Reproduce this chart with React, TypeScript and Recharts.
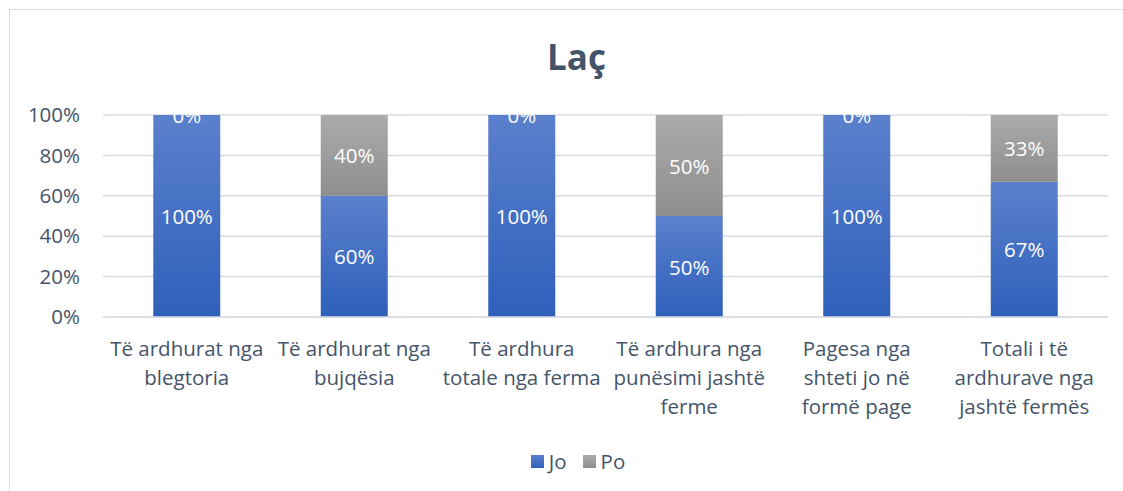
import { Bar, BarChart, CartesianGrid, LabelList, Legend, XAxis, YAxis } from 'recharts';

const categories = [
  'Të ardhurat nga\nblegtoria',
  'Të ardhurat nga\nbujqësia',
  'Të ardhura\ntotale nga ferma',
  'Të ardhura nga\npunësimi jashtë\nferme',
  'Pagesa nga\nshteti jo në\nformë page',
  'Totali i të\nardhurave nga\njashtë fermës',
];
const joValues = [100, 60, 100, 50, 100, 67];
const poValues = [0, 40, 0, 50, 0, 33];
const yTicks = [0, 20, 40, 60, 80, 100];

const FONT = '"Open Sans", Carlito, Calibri, sans-serif';
const FS = 20.5;
const TEXT = '#44546A';
const GRID = '#D9DCE3';

const chartData = categories.map((name, i) => ({ name, Jo: joValues[i], Po: poValues[i] }));

const CategoryTick = ({ x, y, payload }: any) => {
  const lines = String(payload.value).split('\n');
  return (
    <text x={x} y={y} textAnchor="middle" fill={TEXT} fontSize={FS} fontFamily={FONT}>
      {lines.map((line, i) => (
        <tspan key={i} x={x} dy={i === 0 ? 31 : 29}>
          {line}
        </tspan>
      ))}
    </text>
  );
};

const pctText = (cx: number, cy: number, value: number) => (
  <text x={cx} y={cy} textAnchor="middle" dominantBaseline="central" fill="#fff" fontSize={FS} fontFamily={FONT}>
    {`${value}%`}
  </text>
);

// Recharts skips zero-height segments, so the "0%" of a zero Po segment is drawn
// here at the top edge of the Jo segment, where Excel puts it.
const JoLabel = (props: any) => {
  const { x, y, width, height, value, index } = props;
  const cx = Number(x) + Number(width) / 2;
  return (
    <g>
      {pctText(cx, Number(y) + Number(height) / 2, value)}
      {poValues[index] === 0 ? pctText(cx, Number(y), poValues[index]) : null}
    </g>
  );
};

const PoLabel = (props: any) => {
  const { x, y, width, height, value } = props;
  if (!value) return null;
  return pctText(Number(x) + Number(width) / 2, Number(y) + Number(height) / 2, value);
};

const LegendContent = () => (
  <div style={{ height: 30, paddingLeft: 40, display: 'flex', justifyContent: 'center', alignItems: 'center', fontFamily: FONT, fontSize: FS, color: TEXT }}>
    <span style={{ display: 'inline-block', width: 13, height: 13, background: 'linear-gradient(#5B80CC, #2E60BB)', marginRight: 5 }} />
    <span style={{ marginRight: 16 }}>Jo</span>
    <span style={{ display: 'inline-block', width: 13, height: 13, background: 'linear-gradient(#ABABAB, #8E8E8E)', marginRight: 5 }} />
    <span>Po</span>
  </div>
);

export default function App() {
  return (
    <div style={{ position: 'absolute', left: 0, top: 0, width: 1123, height: 491, overflow: 'hidden', background: '#fff' }}>
      <div style={{ position: 'absolute', left: 9, top: 9, width: 1300, height: 700, border: `1.5px solid ${GRID}` }} />
      <div style={{ position: 'absolute', left: 0, top: 33, width: 1153, textAlign: 'center', fontFamily: FONT, fontSize: 35, fontWeight: 700, color: TEXT }}>
        Laç
      </div>
      <div style={{ position: 'absolute', left: 0, top: 0 }}>
        <BarChart width={1123} height={491} data={chartData} margin={{ top: 115, right: 15, bottom: 15, left: 8 }} barCategoryGap="30%">
          <defs>
            <linearGradient id="gradJo" x1="0" y1="0" x2="0" y2="1">
              <stop offset="0%" stopColor="#5B80CC" />
              <stop offset="100%" stopColor="#2E60BB" />
            </linearGradient>
            <linearGradient id="gradPo" x1="0" y1="0" x2="0" y2="1">
              <stop offset="0%" stopColor="#ABABAB" />
              <stop offset="100%" stopColor="#8E8E8E" />
            </linearGradient>
          </defs>
          <CartesianGrid vertical={false} stroke={GRID} strokeWidth={1.5} />
          <XAxis
            dataKey="name"
            interval={0}
            height={129}
            axisLine={{ stroke: GRID, strokeWidth: 1.5 }}
            tickLine={false}
            tick={<CategoryTick />}
          />
          <YAxis
            width={95}
            domain={[0, 100]}
            ticks={yTicks}
            tickFormatter={(v) => `${v}%`}
            axisLine={false}
            tickLine={false}
            tickSize={0}
            tickMargin={23}
            tick={{ fill: TEXT, fontSize: FS, fontFamily: FONT }}
          />
          <Legend verticalAlign="bottom" content={<LegendContent />} />
          <Bar dataKey="Jo" stackId="a" fill="url(#gradJo)" isAnimationActive={false}>
            <LabelList dataKey="Jo" content={<JoLabel />} />
          </Bar>
          <Bar dataKey="Po" stackId="a" fill="url(#gradPo)" isAnimationActive={false}>
            <LabelList dataKey="Po" content={<PoLabel />} />
          </Bar>
        </BarChart>
      </div>
    </div>
  );
}
